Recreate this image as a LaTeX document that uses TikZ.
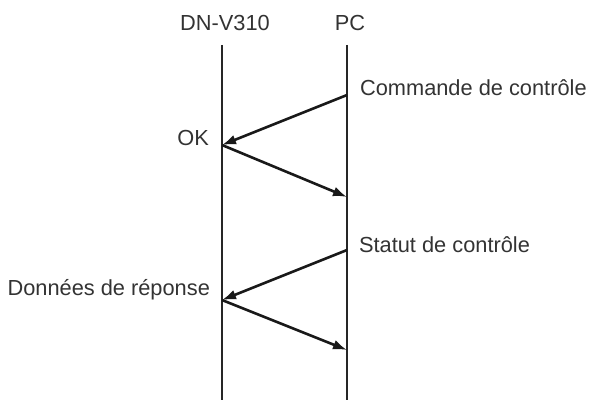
\documentclass[tikz,border=0pt]{standalone}
\usepackage{fontspec}
\setmainfont{Liberation Sans}
\usetikzlibrary{arrows.meta}
\begin{document}
\begin{tikzpicture}[x=0.5pt, y=0.5pt,
    every node/.style={text=black!80, font=\fontsize{10.9}{13}\selectfont},
    vida/.style={line width=1pt, black!85},
    mensaje/.style={line width=1.3pt, black!90, -{Latex[length=7pt, width=5pt]}}]
    \useasboundingbox (0,0) rectangle (592,407);

    % Lineas de vida
    \node (dn) at (225,384) {DN-V310};
    \node (pc) at (350,384) {PC};
    \coordinate (dnA) at (222,362);
    \coordinate (dnB) at (222,7);
    \coordinate (pcA) at (347,362);
    \coordinate (pcB) at (347,7);
    \draw[vida] (dnA) -- (dnB);
    \draw[vida] (pcA) -- (pcB);

    % Puntos de los mensajes
    \coordinate (p1) at (347,312);
    \coordinate (d1) at (222,262);
    \coordinate (p2) at (347,210);
    \coordinate (p3) at (347,157);
    \coordinate (d2) at (222,107);
    \coordinate (p4) at (347,57);

    % Mensajes
    \draw[mensaje] (p1) -- (d1);
    \draw[mensaje] (d1) -- (p2);
    \draw[mensaje] (p3) -- (d2);
    \draw[mensaje] (d2) -- (p4);

    % Etiquetas
    \node[anchor=west] (cmd) at (353,319) {Commande de contrôle};
    \node[anchor=east] (ok) at (216,269) {OK};
    \node[anchor=west] (stat) at (352,162) {Statut de contrôle};
    \node[anchor=east] (rep) at (217,117) {Données de réponse};
\end{tikzpicture}
\end{document}
